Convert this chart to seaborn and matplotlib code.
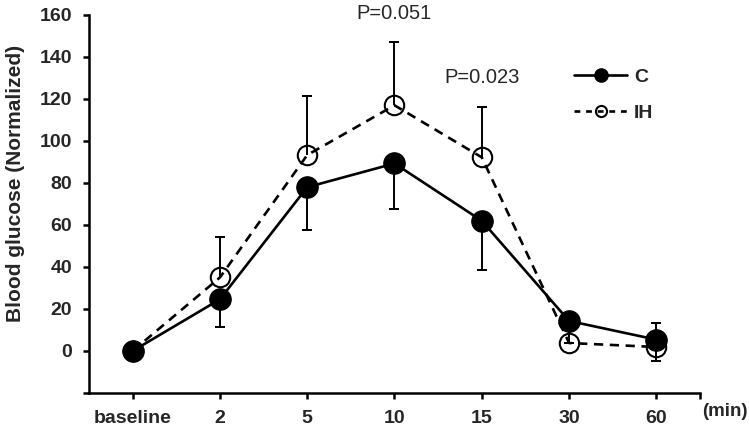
import numpy as np
import pandas as pd
import matplotlib.pyplot as plt
import seaborn as sns
from matplotlib.lines import Line2D

# values
time_labels = ['baseline', '2', '5', '10', '15', '30', '60']
c_mean = [0, 24.6, 78.0, 89.3, 62.0, 14.3, 5.4]
c_err_low = [0, 13.2, 20.2, 21.8, 23.5, 10.5, 0]
c_err_high = [0, 0, 0, 0, 0, 0, 8.1]
ih_mean = [0, 35.0, 93.3, 117.0, 92.2, 3.8, 1.9]
ih_err_low = [0, 0, 0, 0, 0, 0, 6.8]
ih_err_high = [0, 19.3, 28.2, 30.0, 24.0, 7.0, 0]
p_labels = ['P=0.051', 'P=0.023']


def draw_errors(ax, pos, mean, low, high):
    """One-sided error bars: stem from the mean, cap only at the far end."""
    mean = np.asarray(mean)
    for err, sign in [(np.asarray(low), -1), (np.asarray(high), 1)]:
        m = err > 0
        tips = mean[m] + sign * err[m]
        ax.vlines(pos[m], mean[m], tips, color='black', lw=1.4, zorder=2)
        ax.errorbar(pos[m], tips, yerr=0, fmt='none', ecolor='black',
                    capsize=3.5, capthick=1.4, elinewidth=0, zorder=2)


sns.set_style('ticks')
plt.rcParams['font.family'] = ['Liberation Sans', 'DejaVu Sans']

pos = np.arange(len(time_labels))
df = pd.DataFrame({'pos': np.concatenate([pos, pos]),
                   'value': c_mean + ih_mean,
                   'group': ['C'] * len(pos) + ['IH'] * len(pos)})

fig = plt.figure(figsize=(7.49, 4.33), dpi=100)
ax = fig.add_axes([0.1188, 0.0924, 0.8158, 0.873])

draw_errors(ax, pos, ih_mean, ih_err_low, ih_err_high)
draw_errors(ax, pos, c_mean, c_err_low, c_err_high)

sns.lineplot(data=df[df.group == 'IH'], x='pos', y='value', ax=ax,
             color='black', lw=1.9, linestyle=(0, (3.5, 2.5)),
             marker='o', markersize=14, markerfacecolor='none',
             markeredgecolor='black', markeredgewidth=1.5, zorder=3)
sns.lineplot(data=df[df.group == 'C'], x='pos', y='value', ax=ax,
             color='black', lw=1.9, marker='o', markersize=15.5,
             markerfacecolor='black', markeredgecolor='black', zorder=4)

ax.set_xlim(-0.5, 6.5)
ax.set_ylim(-20, 160)
ax.set_xticks(pos)
ax.set_xticklabels(time_labels, fontsize=14, fontweight='bold')
ax.set_xticks([6.5], minor=True)
yt = np.arange(-20, 161, 20)
ax.set_yticks(yt)
ax.set_yticklabels(['' if v < 0 else str(v) for v in yt],
                   fontsize=14, fontweight='bold')
ax.tick_params(axis='both', which='both', direction='out', length=4.5,
               width=1.8, color='black')
ax.tick_params(axis='x', pad=7.5)
ax.tick_params(axis='y', pad=7.5)
for s in ['left', 'bottom']:
    ax.spines[s].set_linewidth(1.8)
    ax.spines[s].set_color('black')
sns.despine(ax=ax)

ax.set_xlabel('')
ax.set_ylabel('Blood glucose (Normalized)', fontsize=15, fontweight='bold')
ax.yaxis.set_label_coords(-0.104, 0.555)
ax.text(6.52, -28.8, '(min)', fontsize=13.5, fontweight='bold',
        ha='left', va='center', clip_on=False)

ax.text(3, 160.5, p_labels[0], fontsize=14.5, ha='center', va='center')
ax.text(4, 130, p_labels[1], fontsize=14.5, ha='center', va='center')

handles = [
    Line2D([], [], color='black', lw=1.9, marker='o', markersize=9.5,
           markerfacecolor='black'),
    Line2D([], [], color='black', lw=1.9, linestyle=(0, (2.2, 2.2)),
           marker='o', markersize=8, markerfacecolor='none',
           markeredgewidth=1.5),
]
ax.legend(handles, ['C', 'IH'], loc='upper left',
          bbox_to_anchor=(0.765, 0.906), frameon=False,
          prop={'size': 14, 'weight': 'bold'}, handlelength=2.75,
          labelspacing=0.95, handletextpad=0.35)

fig.savefig('out.png', dpi=100)
